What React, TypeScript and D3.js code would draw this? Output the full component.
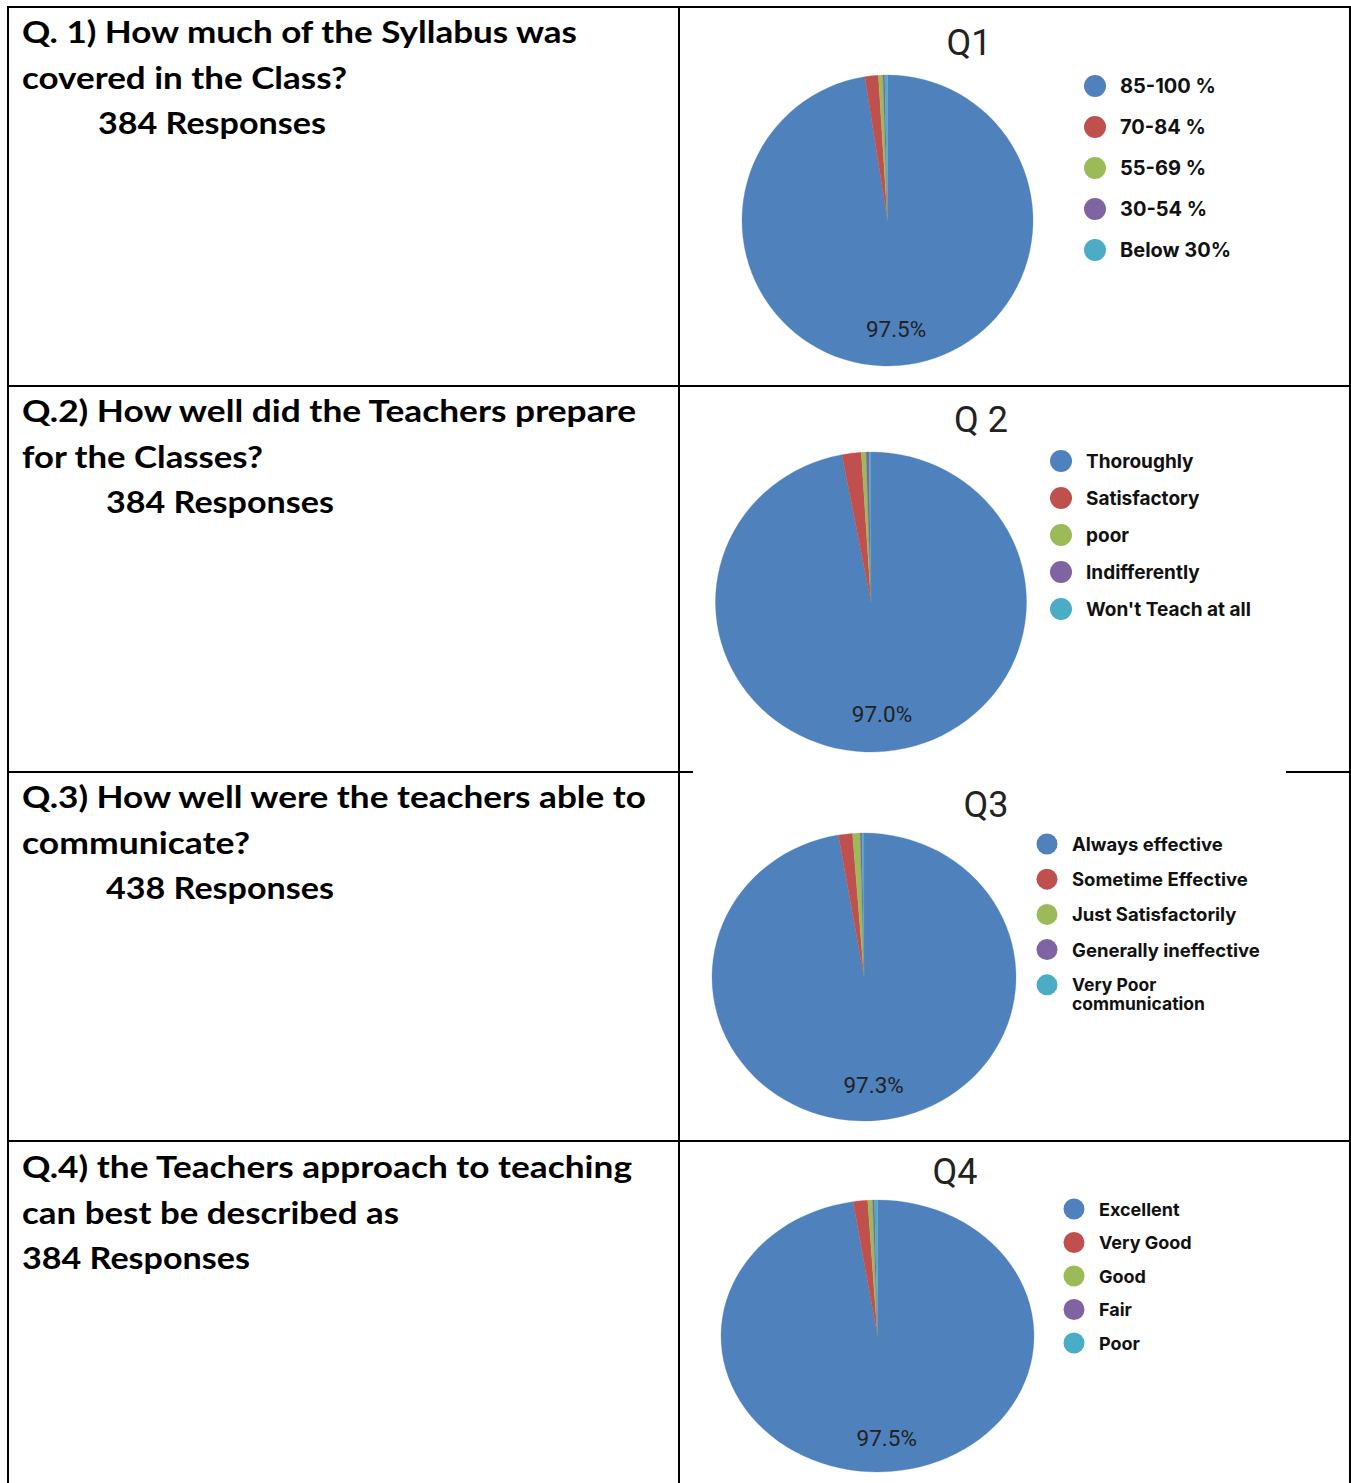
import * as d3 from "d3"

const W = 1351
const H = 1483

const colors = ["#4f81bd", "#c0504d", "#9bbb59", "#8064a2", "#4bacc6"]

const q1Labels = ["85-100 %", "70-84 %", "55-69 %", "30-54 %", "Below 30%"]
const q1Values = [97.5, 1.5, 0.5, 0.2, 0.3]
const q2Labels = ["Thoroughly", "Satisfactory", "poor", "Indifferently", "Won't Teach at all"]
const q2Values = [97.0, 2.0, 0.5, 0.3, 0.2]
const q3Labels = ["Always effective", "Sometime Effective", "Just Satisfactorily", "Generally ineffective", "Very Poor\ncommunication"]
const q3Values = [97.3, 1.5, 0.8, 0.2, 0.2]
const q4Labels = ["Excellent", "Very Good", "Good", "Fair", "Poor"]
const q4Values = [97.5, 1.5, 0.5, 0.2, 0.3]

const chartTitles = ["Q1", "Q 2", "Q3", "Q4"]

const questionLines = [
  ["Q. 1) How much of the Syllabus was", "covered in the Class?", "384 Responses"],
  ["Q.2) How well did the Teachers prepare", "for the Classes?", "384 Responses"],
  ["Q.3) How well were the teachers able to", "communicate?", "438 Responses"],
  ["Q.4) the Teachers approach to teaching", "can best be described as", "384 Responses"],
]

// layout per row (pixels)
const rows = [
  {
    labels: q1Labels, values: q1Values,
    cx: 887.5, cy: 220.5, rx: 145.5, ry: 145.5,
    titleX: 969, titleY: 55,
    legX: 1095, legY: 86, legStep: 41, legR: 11, legFont: 20,
    textY: 43, textX: [22, 22, 98], textW: [555, 325, 228],
  },
  {
    labels: q2Labels, values: q2Values,
    cx: 871, cy: 602, rx: 155.5, ry: 150,
    titleX: 981, titleY: 432,
    legX: 1061, legY: 461, legStep: 37, legR: 11, legFont: 19,
    textY: 422, textX: [22, 22, 106], textW: [614, 241, 228],
  },
  {
    labels: q3Labels, values: q3Values,
    cx: 864, cy: 977, rx: 152, ry: 144,
    titleX: 986, titleY: 817,
    legX: 1047, legY: 844, legStep: 35.2, legR: 10.5, legFont: 18.5,
    textY: 808, textX: [22, 22, 106], textW: [624, 228, 228],
  },
  {
    labels: q4Labels, values: q4Values,
    cx: 877.5, cy: 1336, rx: 156.5, ry: 136,
    titleX: 955, titleY: 1184,
    legX: 1074, legY: 1209, legStep: 33.5, legR: 10.5, legFont: 18,
    textY: 1178, textX: [22, 22, 22], textW: [610, 377, 228],
  },
]

const lineGap = 45.5
const pct = d3.format(".1%")

const PieCell = ({ row, title }: { row: (typeof rows)[number]; title: string }) => {
  const total = d3.sum(row.values)
  const pie = d3.pie<number>().sort(null).value((d) => d)
  const arcs = pie(row.values)
  const r = row.rx
  const arc = d3.arc<d3.PieArcDatum<number>>().innerRadius(0).outerRadius(r)
  const labelArc = d3.arc<d3.PieArcDatum<number>>().innerRadius(r * 0.75).outerRadius(r * 0.75)
  const sy = row.ry / row.rx
  const first = arcs[0]
  const [lx, ly] = labelArc.centroid(first)

  return (
    <g>
      <text
        x={row.titleX}
        y={row.titleY}
        textAnchor="middle"
        fontFamily="Roboto, sans-serif"
        fontSize={36}
        fill="#222"
      >
        {title}
      </text>
      <g transform={`translate(${row.cx},${row.cy}) scale(1,${sy})`}>
        {arcs.map((a, i) => (
          <path key={i} d={arc(a) || ""} fill={colors[i]} stroke={colors[i]} strokeWidth={0.3} />
        ))}
      </g>
      <text
        x={row.cx + lx}
        y={row.cy + ly * sy}
        textAnchor="middle"
        dominantBaseline="central"
        fontFamily="Roboto, sans-serif"
        fontSize={22.5}
        fill="#222"
      >
        {pct(first.data / total)}
      </text>
      {row.labels.map((lab, i) => {
        const y = row.legY + i * row.legStep
        const parts = lab.split("\n")
        const fs = parts.length > 1 ? row.legFont - 1 : row.legFont
        return (
          <g key={lab}>
            <circle cx={row.legX} cy={y} r={row.legR} fill={colors[i]} />
            {parts.map((p, j) => (
              <text
                key={j}
                x={row.legX + 25}
                y={y + j * 18.5}
                dominantBaseline="central"
                fontFamily="Inter, sans-serif"
                fontWeight={700}
                fontSize={fs}
                fill="#111"
              >
                {p}
              </text>
            ))}
          </g>
        )
      })}
    </g>
  )
}

export default function App() {
  return (
    <svg
      width={W}
      height={H}
      style={{ position: "absolute", left: 0, top: 0, background: "#fff" }}
    >
      {/* table grid */}
      <g stroke="#000" strokeWidth={2}>
        <line x1={8} x2={8} y1={6} y2={H} />
        <line x1={679} x2={679} y1={6} y2={H} />
        <line x1={1350} x2={1350} y1={6} y2={H} />
        <line x1={8} x2={1350} y1={7} y2={7} />
        <line x1={8} x2={1350} y1={386} y2={386} />
        <line x1={8} x2={693} y1={772} y2={772} />
        <line x1={1286} x2={1350} y1={772} y2={772} />
        <line x1={8} x2={1350} y1={1141} y2={1141} />
      </g>
      {questionLines.map((lines, qi) => (
        <g key={qi}>
          {lines.map((t, li) => (
            <text
              key={li}
              x={rows[qi].textX[li]}
              y={rows[qi].textY + li * lineGap}
              textLength={rows[qi].textW[li]}
              lengthAdjust="spacingAndGlyphs"
              fontFamily="Lato, 'Open Sans', sans-serif"
              fontWeight={700}
              fontSize={31}
              fill="#000"
            >
              {t}
            </text>
          ))}
        </g>
      ))}
      {rows.map((row, i) => (
        <PieCell key={i} row={row} title={chartTitles[i]} />
      ))}
    </svg>
  )
}
